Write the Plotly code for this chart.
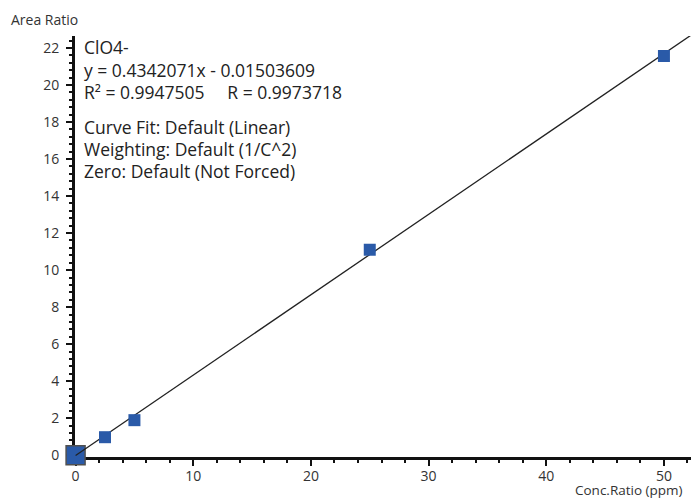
import plotly.graph_objects as go

conc = [0, 2.5, 5, 25, 50]
area = [0.0, 0.97, 1.89, 11.1, 21.57]
slope = 0.4342071
intercept = -0.01503609
fit_x = [0, 52.5]
fit_y = [slope * v + intercept for v in fit_x]

info_lines = [
    "ClO4-",
    "y = 0.4342071x - 0.01503609",
    "R² = 0.9947505     R = 0.9973718",
    "",
    "Curve Fit: Default (Linear)",
    "Weighting: Default (1/C^2)",
    "Zero: Default (Not Forced)",
]

W, H = 691, 499
L, R, T, B = 75, 0, 36, 42
xr = [-0.05, 52.3]
yr = [-0.1, 22.65]

FONT = "Open Sans, Noto Sans, sans-serif"
BLUE = "#2a5aa8"

fig = go.Figure()
fig.add_trace(go.Scatter(x=conc[:1], y=area[:1], mode="markers",
                         marker=dict(symbol="square", size=19, color=BLUE,
                                     line=dict(width=1.5, color="#505050")),
                         showlegend=False, cliponaxis=False))
fig.add_trace(go.Scatter(x=fit_x, y=fit_y, mode="lines",
                         line=dict(color="#222222", width=1.3),
                         hoverinfo="skip", showlegend=False, cliponaxis=False))
fig.add_trace(go.Scatter(x=conc[1:], y=area[1:], mode="markers",
                         marker=dict(symbol="square", size=12, color=BLUE,
                                     line=dict(width=0)),
                         showlegend=False, cliponaxis=False))

axis_common = dict(showgrid=False, zeroline=False, showline=True,
                   linecolor="#111111", linewidth=3, ticks="outside",
                   tickcolor="#111111", ticklen=6, tickwidth=2,
                   layer="below traces",
                   tickfont=dict(family=FONT, size=14, color="#333333"))

fig.update_xaxes(range=xr, tickvals=[0, 10, 20, 30, 40, 50], ticklabelstandoff=-2,
                 minor=dict(dtick=2, tick0=0, ticks="outside", ticklen=3,
                            tickcolor="#111111", tickwidth=2),
                 **axis_common)
fig.update_yaxes(range=yr, tickvals=list(range(0, 23, 2)), ticklabelstandoff=4,
                 minor=dict(dtick=0.4, tick0=0, ticks="outside", ticklen=3,
                            tickcolor="#111111", tickwidth=2),
                 **axis_common)

plot_h = H - T - B
plot_w = W - L - R
def py(pix):
    return (H - B - pix) / plot_h
def px(pix):
    return (pix - L) / plot_w

ann = []
line_pix = [47, 70, 92, 110, 127, 149, 171]
for txt, yp in zip(info_lines, line_pix):
    if not txt:
        continue
    ann.append(dict(text=txt, xref="paper", yref="paper",
                    x=px(82), y=py(yp),
                    xanchor="left", yanchor="middle", showarrow=False,
                    font=dict(family=FONT, size=17.5, color="#222222")))

ann.append(dict(text="Area Ratio", xref="paper", yref="paper",
                x=px(9), y=py(19), xanchor="left",
                yanchor="middle", showarrow=False,
                font=dict(family=FONT, size=14, color="#333333")))
ann.append(dict(text="Conc.Ratio (ppm)", xref="paper", yref="paper",
                x=px(573), y=py(490), xanchor="left",
                yanchor="middle", showarrow=False,
                font=dict(family=FONT, size=13.5, color="#333333")))

fig.update_layout(width=W, height=H, margin=dict(l=L, r=R, t=T, b=B),
                  paper_bgcolor="white", plot_bgcolor="white",
                  annotations=ann, font=dict(family=FONT))

fig.write_html("out.html", config={"displayModeBar": False},
               post_script="document.body.style.margin='0';document.body.style.overflow='hidden';")
